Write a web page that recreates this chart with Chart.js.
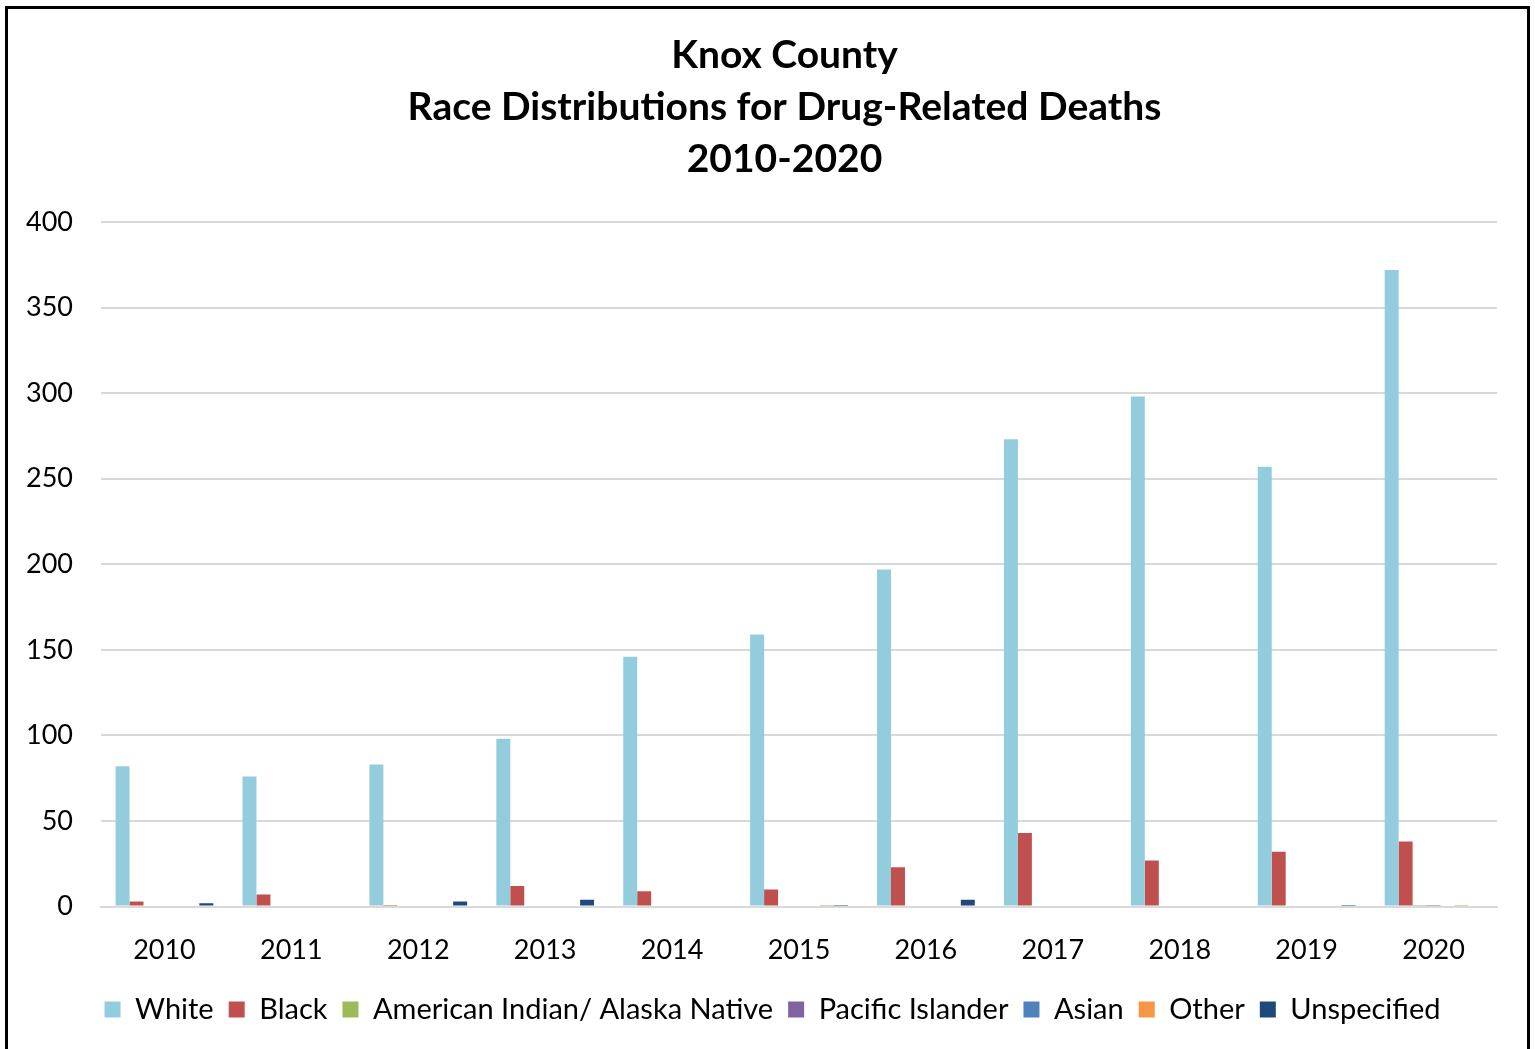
<!DOCTYPE html>
<html>
<head>
<meta charset="utf-8">
<script src="https://cdn.jsdelivr.net/npm/chart.js@4"></script>
<style>
  body { margin: 0; background: #fff; overflow: hidden; }
  #frame { position: absolute; left: 5px; top: 6px; width: 1519px; height: 1060px; border: 3px solid #000; background: #fff; }
  #wrap { position: absolute; left: 0; top: 0; width: 1519px; height: 1030px; }
</style>
</head>
<body>
<div id="frame"><div id="wrap"><canvas id="chart"></canvas></div></div>
<script>
const years = ['2010', '2011', '2012', '2013', '2014', '2015', '2016', '2017', '2018', '2019', '2020'];
const white = [82, 76, 83, 98, 146, 159, 197, 273, 298, 257, 372];
const black = [3, 7, 1, 12, 9, 10, 23, 43, 27, 32, 38];
const amIndian = [0, 0, 0, 0, 0, 0, 0, 0, 0, 0, 1];
const pacific = [0, 0, 0, 0, 0, 0, 0, 0, 0, 0, 1];
const asian = [0, 0, 0, 0, 0, 0, 0, 0, 0, 0, 0];
const other = [0, 0, 0, 0, 0, 1, 0, 0, 0, 0, 1];
const unspecified = [2, 0, 3, 4, 0, 1, 4, 0, 0, 1, 0];
const yTicks = [0, 50, 100, 150, 200, 250, 300, 350, 400];

const fontFam = 'Lato, "Open Sans", sans-serif';

const series = [
    { label: 'White', data: white, color: '#93CDDD' },
    { label: 'Black', data: black, color: '#C0504D' },
    { label: 'American Indian/ Alaska Native', data: amIndian, color: '#9BBB59' },
    { label: 'Pacific Islander', data: pacific, color: '#8064A2' },
    { label: 'Asian', data: asian, color: '#4F81BD' },
    { label: 'Other', data: other, color: '#F79646' },
    { label: 'Unspecified', data: unspecified, color: '#1F497D' }
];

// title and legend sit a bit right of the canvas centre in the original
const nudge = {
    id: 'nudge',
    afterLayout(chart) {
        if (chart.titleBlock) {
            chart.titleBlock.left += 26;
            chart.titleBlock.right += 26;
        }
        if (chart.legend) {
            chart.legend.left += 14;
            chart.legend.right += 14;
            chart.legend.top -= 5;
            chart.legend.bottom -= 5;
        }
    }
};

new Chart(document.getElementById('chart'), {
    type: 'bar',
    data: {
        labels: years,
        datasets: series.map(s => ({
            label: s.label,
            data: s.data,
            backgroundColor: s.color,
            borderWidth: 0,
            categoryPercentage: 0.77,
            barPercentage: 1
        }))
    },
    options: {
        responsive: true,
        maintainAspectRatio: false,
        animation: false,
        layout: { padding: { left: 12, right: 30, top: 20, bottom: 0 } },
        scales: {
            x: {
                grid: { display: false },
                border: { color: '#d9d9d9', width: 2 },
                ticks: { color: '#000', font: { family: fontFam, size: 27 }, padding: 19 }
            },
            y: {
                min: 0,
                max: 400,
                afterBuildTicks: axis => { axis.ticks = yTicks.map(v => ({ value: v })); },
                afterFit: axis => { axis.width = 81; },
                grid: { color: '#d9d9d9', lineWidth: 2, drawTicks: false },
                border: { display: false },
                ticks: { color: '#000', font: { family: fontFam, size: 27 }, padding: 28 }
            }
        },
        plugins: {
            title: {
                display: true,
                text: ['Knox County', 'Race Distributions for Drug-Related Deaths', '2010-2020'],
                color: '#000',
                font: { family: fontFam, size: 39, weight: 'bold', lineHeight: 1.333 },
                padding: { top: 0, bottom: 37 }
            },
            legend: {
                position: 'bottom',
                labels: {
                    color: '#000',
                    font: { family: fontFam, size: 29 },
                    boxWidth: 16,
                    boxHeight: 16,
                    padding: 15
                }
            },
            tooltip: { enabled: false }
        }
    },
    plugins: [nudge]
});
</script>
</body>
</html>
